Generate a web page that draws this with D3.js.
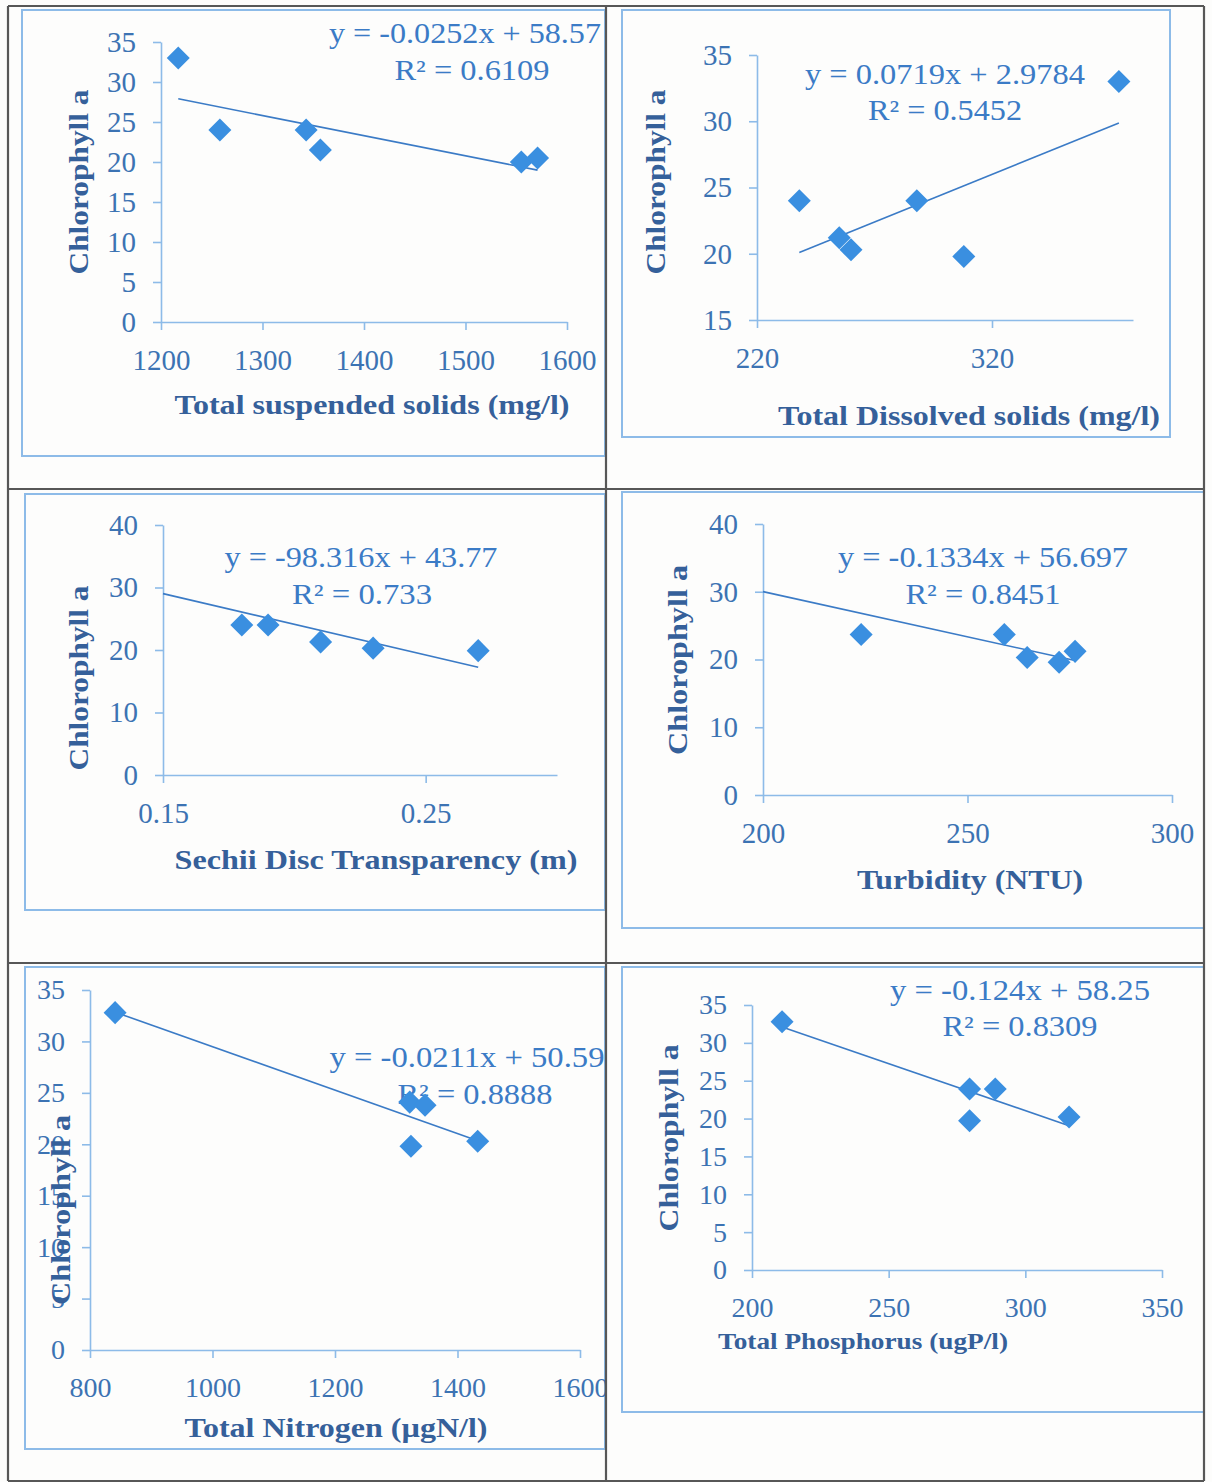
<!DOCTYPE html>
<html>
<head>
<meta charset="utf-8">
<script src="https://cdn.jsdelivr.net/npm/d3@7"></script>
<style>
body { margin: 0; background: #fdfdfc; }
svg { display: block; font-family: "Liberation Serif", "Times New Roman", serif; }
</style>
</head>
<body>
<div id="chart"></div>
<script>
// Y variable is always Chlorophyll a
const yTitle = 'Chlorophyll a';

// Total suspended solids
const tssX = [1217, 1258, 1343, 1357, 1555, 1571];
const tssY = [33, 24, 24, 21.5, 20, 20.5];
const tssFit = [-0.0252, 58.57];
const tssTicksX = [1200, 1300, 1400, 1500, 1600];
const tssTicksY = [0, 5, 10, 15, 20, 25, 30, 35];

// Total dissolved solids
const tdsX = [238, 255, 260, 288, 308, 374];
const tdsY = [24, 21.2, 20.3, 24, 19.8, 33];
const tdsFit = [0.0719, 2.9784];
const tdsTicksX = [220, 320];
const tdsTicksY = [15, 20, 25, 30, 35];

// Sechii disc transparency
const sdtX = [0.18, 0.19, 0.21, 0.23, 0.27];
const sdtY = [24, 24, 21.3, 20.3, 19.9];
const sdtFit = [-98.316, 43.77];
const sdtTicksX = [0.15, 0.25];
const sdtTicksY = [0, 10, 20, 30, 40];

// Turbidity
const turX = [224, 259, 264.6, 272.4, 276.3];
const turY = [23.7, 23.7, 20.3, 19.6, 21.2];
const turFit = [-0.1334, 56.697];
const turTicksX = [200, 250, 300];
const turTicksY = [0, 10, 20, 30, 40];

// Total nitrogen
const tnX = [841, 1322, 1347, 1324, 1433];
const tnY = [32.8, 24.1, 23.8, 19.8, 20.3];
const tnFit = [-0.0211, 50.59];
const tnTicksX = [800, 1000, 1200, 1400, 1600];
const tnTicksY = [0, 5, 10, 15, 20, 25, 30, 35];

// Total phosphorus
const tpX = [211, 279.6, 279.6, 289, 316];
const tpY = [32.8, 23.9, 19.7, 23.9, 20.2];
const tpFit = [-0.124, 58.25];
const tpTicksX = [200, 250, 300, 350];
const tpTicksY = [0, 5, 10, 15, 20, 25, 30, 35];

const panels = [
    { xs: tssX, ys: tssY, fit: tssFit, fitFrom: d3.min(tssX), fitTo: d3.max(tssX),
      eq: 'y = -0.0252x + 58.57', r2: 'R² = 0.6109', xTitle: 'Total suspended solids (mg/l)',
      xDomain: [1200, 1600], yDomain: [0, 35], xTicks: tssTicksX, yTicks: tssTicksY },
    { xs: tdsX, ys: tdsY, fit: tdsFit, fitFrom: d3.min(tdsX), fitTo: d3.max(tdsX),
      eq: 'y = 0.0719x + 2.9784', r2: 'R² = 0.5452', xTitle: 'Total Dissolved solids (mg/l)',
      xDomain: [220, 380], yDomain: [15, 35], xTicks: tdsTicksX, yTicks: tdsTicksY },
    { xs: sdtX, ys: sdtY, fit: sdtFit, fitFrom: 0.15, fitTo: d3.max(sdtX),
      eq: 'y = -98.316x + 43.77', r2: 'R² = 0.733', xTitle: 'Sechii Disc Transparency (m)',
      xDomain: [0.15, 0.30], yDomain: [0, 40], xTicks: sdtTicksX, yTicks: sdtTicksY },
    { xs: turX, ys: turY, fit: turFit, fitFrom: 200, fitTo: d3.max(turX),
      eq: 'y = -0.1334x + 56.697', r2: 'R² = 0.8451', xTitle: 'Turbidity (NTU)',
      xDomain: [200, 300], yDomain: [0, 40], xTicks: turTicksX, yTicks: turTicksY },
    { xs: tnX, ys: tnY, fit: tnFit, fitFrom: d3.min(tnX), fitTo: d3.max(tnX),
      eq: 'y = -0.0211x + 50.59', r2: 'R² = 0.8888', xTitle: 'Total Nitrogen (µgN/l)',
      xDomain: [800, 1600], yDomain: [0, 35], xTicks: tnTicksX, yTicks: tnTicksY },
    { xs: tpX, ys: tpY, fit: tpFit, fitFrom: d3.min(tpX), fitTo: d3.max(tpX),
      eq: 'y = -0.124x + 58.25', r2: 'R² = 0.8309', xTitle: 'Total Phosphorus (ugP/l)',
      xDomain: [200, 350], yDomain: [0, 35], xTicks: tpTicksX, yTicks: tpTicksY }
];

// page layout: cell, blue frame, plot box [left, right, top, bottom], text spots
const layouts = [
    { cell: [8, 6, 598, 483], frame: [22, 10, 583, 446], plot: [161, 567, 42, 322],
      eq: [465, 43, 272], r2: [472, 80, 155], xt: [372, 414, 395, 28], yt: [78, 182, 185], fs: 29 },
    { cell: [606, 6, 598, 483], frame: [622, 10, 548, 427], plot: [757, 1133, 55, 320],
      eq: [945, 84, 280], r2: [945, 120, 154], xt: [969, 425, 382, 28], yt: [655, 182, 185], fs: 29 },
    { cell: [8, 489, 598, 474], frame: [25, 494, 580, 416], plot: [163, 557, 525, 775],
      eq: [361, 567, 273], r2: [362, 604, 140], xt: [376, 869, 403, 28], yt: [78, 678, 185], fs: 29 },
    { cell: [606, 489, 598, 474], frame: [622, 492, 583, 436], plot: [763, 1172, 524, 795],
      eq: [983, 567, 290], r2: [983, 604, 155], xt: [970, 889, 226, 28], yt: [677, 660, 190], fs: 29 },
    { cell: [8, 963, 598, 518], frame: [25, 967, 580, 482], plot: [90, 580, 990, 1350],
      eq: [467, 1067, 275], r2: [475, 1104, 155], xt: [336, 1437, 303, 28], yt: [60, 1210, 190], fs: 28 },
    { cell: [606, 963, 598, 518], frame: [622, 967, 583, 445], plot: [752, 1162, 1005, 1270],
      eq: [1020, 1000, 260], r2: [1020, 1036, 155], xt: [863, 1349, 290, 24], yt: [668, 1138, 187], fs: 28 }
];

const axisColour = '#8dbbe8';
const labelColour = '#3c73b3';
const titleColour = '#35609a';
const eqColour = '#3b7bc6';
const markColour = '#3a8fe0';

const svg = d3.select('#chart')
    .append('svg')
    .attr('width', 1212)
    .attr('height', 1482);

svg.append('rect')
    .attr('width', 1212)
    .attr('height', 1482)
    .attr('fill', '#fdfdfc');

const defs = svg.append('defs');

panels.forEach((p, i) => {
    const L = layouts[i];

    defs.append('clipPath').attr('id', 'cell' + i)
        .append('rect')
        .attr('x', L.cell[0]).attr('y', L.cell[1])
        .attr('width', L.cell[2]).attr('height', L.cell[3]);

    const g = svg.append('g').attr('clip-path', `url(#cell${i})`);

    // light blue chart frame
    g.append('rect')
        .attr('x', L.frame[0]).attr('y', L.frame[1])
        .attr('width', L.frame[2]).attr('height', L.frame[3])
        .attr('fill', 'none')
        .attr('stroke', axisColour)
        .attr('stroke-width', 2);

    const x = d3.scaleLinear().domain(p.xDomain).range([L.plot[0], L.plot[1]]);
    const y = d3.scaleLinear().domain(p.yDomain).range([L.plot[3], L.plot[2]]);

    const xAxis = g.append('g')
        .attr('transform', `translate(0,${L.plot[3]})`)
        .call(d3.axisBottom(x).tickValues(p.xTicks).tickSize(8).tickSizeOuter(0).tickFormat(d3.format('')));

    const yAxis = g.append('g')
        .attr('transform', `translate(${L.plot[0]},0)`)
        .call(d3.axisLeft(y).tickValues(p.yTicks).tickSize(8).tickSizeOuter(0).tickPadding(17));

    [xAxis, yAxis].forEach(a => {
        a.select('.domain').attr('stroke', axisColour).attr('stroke-width', 1.6);
        a.selectAll('.tick line').attr('stroke', axisColour).attr('stroke-width', 1.6);
        a.selectAll('.tick text')
            .attr('fill', labelColour)
            .style('font-size', L.fs + 'px')
            .style('font-family', '"Liberation Serif", serif');
    });
    xAxis.selectAll('.tick text').attr('y', 27);

    // trend line from the fitted equation
    const f = v => p.fit[0] * v + p.fit[1];
    g.append('line')
        .attr('x1', x(p.fitFrom)).attr('y1', y(f(p.fitFrom)))
        .attr('x2', x(p.fitTo)).attr('y2', y(f(p.fitTo)))
        .attr('stroke', eqColour)
        .attr('stroke-width', 1.6);

    // equation and R squared
    [[p.eq, L.eq], [p.r2, L.r2]].forEach(([txt, pos]) => {
        g.append('text')
            .attr('x', pos[0]).attr('y', pos[1])
            .attr('text-anchor', 'middle')
            .attr('textLength', pos[2])
            .attr('lengthAdjust', 'spacingAndGlyphs')
            .attr('fill', eqColour)
            .style('font-size', '29px')
            .text(txt);
    });

    // diamonds
    const pts = p.xs.map((v, k) => ({ x: v, y: p.ys[k] }));
    g.selectAll('path.pt')
        .data(pts)
        .enter()
        .append('path')
        .attr('class', 'pt')
        .attr('d', d3.symbol(d3.symbolSquare, 265))
        .attr('transform', d => `translate(${x(d.x)},${y(d.y)}) rotate(45)`)
        .attr('fill', markColour);

    // axis titles
    g.append('text')
        .attr('x', L.xt[0]).attr('y', L.xt[1])
        .attr('text-anchor', 'middle')
        .attr('textLength', L.xt[2])
        .attr('lengthAdjust', 'spacingAndGlyphs')
        .attr('fill', titleColour)
        .style('font-weight', 'bold')
        .style('font-size', L.xt[3] + 'px')
        .text(p.xTitle);

    g.append('text')
        .attr('transform', `translate(${L.yt[0]},${L.yt[1]}) rotate(-90)`)
        .attr('text-anchor', 'middle')
        .attr('dominant-baseline', 'central')
        .attr('textLength', L.yt[2])
        .attr('lengthAdjust', 'spacingAndGlyphs')
        .attr('fill', titleColour)
        .style('font-weight', 'bold')
        .style('font-size', '28px')
        .text(yTitle);
});

// dark table grid round the six charts
const gridCols = [8, 606, 1204];
const gridRows = [6, 489, 963, 1481];
const grid = svg.append('g').attr('stroke', '#575757').attr('stroke-width', 2.2);
gridCols.forEach(c => grid.append('line').attr('x1', c).attr('x2', c).attr('y1', 6).attr('y2', 1481));
gridRows.forEach(r => grid.append('line').attr('x1', 8).attr('x2', 1204).attr('y1', r).attr('y2', r));
</script>
</body>
</html>
